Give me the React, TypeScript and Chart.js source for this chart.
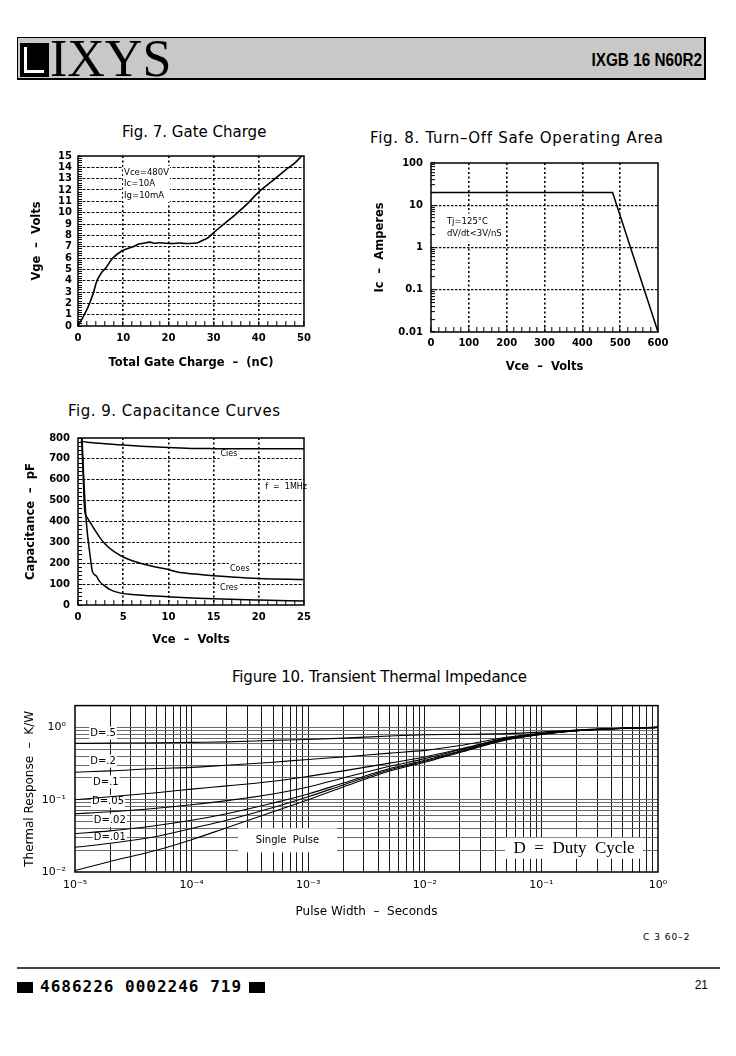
import React, { useEffect, useRef } from 'react';
import { Chart, registerables } from 'chart.js';

Chart.register(...registerables);
Chart.defaults.font.family = 'DejaVu Sans';

// ---------------- Fig. 7  Gate Charge ----------------
const gateChargeNC = [0, 0.7, 1.4, 2.2, 3.3, 4.2, 5.2, 6.1, 7.7, 9.6, 10.7, 12.2, 13.6, 14.5, 15.9, 17, 18, 19.5, 21, 22.5, 24, 25.4, 26.5, 27.3, 28.8, 29.9, 32, 35, 37.5, 40.2, 43, 46, 48, 49.5];
const gateVoltageV = [0, 0.49, 1.0, 1.65, 2.8, 4.0, 4.7, 5.1, 6.0, 6.6, 6.8, 7.0, 7.25, 7.3, 7.4, 7.3, 7.35, 7.3, 7.28, 7.32, 7.28, 7.3, 7.35, 7.5, 7.8, 8.2, 8.9, 9.9, 10.8, 11.9, 12.8, 13.8, 14.4, 15];
const gateXTickLabels = ['0', '10', '20', '30', '40', '50'];
const gateYTickLabels = ['0', '1', '2', '3', '4', '5', '6', '7', '8', '9', '10', '11', '12', '13', '14', '15'];
const gateNoteLines = ['Vce=480V', 'Ic=10A', 'Ig=10mA'];

// ---------------- Fig. 8  Turn-Off SOA ----------------
const soaVceV = [0, 480, 600];
const soaIcA = [20, 20, 0.01];
const soaXTickLabels = ['0', '100', '200', '300', '400', '500', '600'];
const soaYTickValues = [0.01, 0.1, 1, 10, 100];
const soaYTickLabels = ['0.01', '0.1', '1', '10', '100'];
const soaNoteLines = ['Tj=125°C', 'dV/dt<3V/nS'];

// ---------------- Fig. 9  Capacitance ----------------
const ciesVce = [0.3, 1, 2, 3, 5, 7, 10, 13, 15, 20, 25];
const ciesPF = [784, 780, 776, 772, 766, 761, 755, 750, 749, 748, 748];
const coesVce = [0.4, 0.55, 0.74, 1, 1.5, 2, 2.5, 3, 3.5, 4, 5, 6, 7, 8, 9, 10, 11, 13, 15, 17, 20, 25];
const coesPF = [800, 640, 453, 420, 385, 350, 318, 292, 272, 256, 230, 212, 199, 188, 178, 170, 158, 148, 140, 134, 127, 122];
const cresVce = [0.45, 0.6, 0.8, 1, 1.3, 1.6, 2, 2.4, 3, 3.5, 4.6, 6, 8, 10, 12, 15, 20, 25];
const cresPF = [800, 640, 470, 360, 250, 160, 140, 112, 90, 75, 58, 50, 44, 40, 35, 30, 24, 19];
const capXTickLabels = ['0', '5', '10', '15', '20', '25'];
const capYTickLabels = ['0', '100', '200', '300', '400', '500', '600', '700', '800'];

// ---------------- Fig. 10  Transient Thermal Impedance ----------------
const pulseWidthS = [1e-5, 2e-5, 5e-5, 1e-4, 2e-4, 5e-4, 1e-3, 2e-3, 5e-3, 1e-2, 2e-2, 5e-2, 1e-1, 2e-1, 5e-1, 1];
const zthD50 = [0.6, 0.605, 0.61, 0.62, 0.63, 0.66, 0.68, 0.71, 0.76, 0.79, 0.8, 0.82, 0.86, 0.92, 0.97, 1.0];
const zthD20 = [0.24, 0.25, 0.27, 0.28, 0.3, 0.33, 0.36, 0.39, 0.44, 0.48, 0.56, 0.73, 0.83, 0.91, 0.97, 1.0];
const zthD10 = [0.1, 0.11, 0.125, 0.14, 0.155, 0.18, 0.21, 0.25, 0.32, 0.39, 0.5, 0.71, 0.82, 0.91, 0.97, 1.0];
const zthD05 = [0.064, 0.068, 0.076, 0.085, 0.097, 0.12, 0.15, 0.2, 0.29, 0.37, 0.49, 0.7, 0.81, 0.9, 0.97, 1.0];
const zthD02 = [0.034, 0.037, 0.044, 0.052, 0.064, 0.09, 0.12, 0.17, 0.27, 0.35, 0.47, 0.69, 0.81, 0.9, 0.97, 1.0];
const zthD01 = [0.022, 0.025, 0.031, 0.04, 0.052, 0.078, 0.11, 0.16, 0.26, 0.34, 0.46, 0.68, 0.8, 0.9, 0.97, 1.0];
const zthSingle = [0.0105, 0.014, 0.02, 0.028, 0.041, 0.068, 0.1, 0.15, 0.25, 0.33, 0.45, 0.67, 0.8, 0.9, 0.97, 1.0];
const thermXTickValues = [1e-5, 1e-4, 1e-3, 1e-2, 1e-1, 1];
const thermXTickLabels = ['10⁻⁵', '10⁻⁴', '10⁻³', '10⁻²', '10⁻¹', '10⁰'];
const thermYTickValues = [0.01, 0.1, 1];
const thermYTickLabels = ['10⁻²', '10⁻¹', '10⁰'];
const dutyLabels = ['D=.5', 'D=.2', 'D=.1', 'D=.05', 'D=.02', 'D=.01'];

// ---------------- helpers ----------------
const stepValues = (min: number, max: number, step: number) => {
  const out: number[] = [];
  const n = Math.round((max - min) / step);
  for (let i = 0; i <= n; i++) out.push(Math.round((min + i * step) * 1e6) / 1e6);
  return out;
};
const logValues = (minExp: number, maxExp: number, top: number) => {
  const out: number[] = [];
  for (let e = minExp; e <= maxExp; e++)
    for (let m = 1; m <= 9; m++) {
      const v = Number((m * Math.pow(10, e)).toPrecision(6));
      if (v <= top * (1 + 1e-9)) out.push(v);
    }
  return out;
};
const near = (arr: number[], v: number) => arr.findIndex((u) => Math.abs(u - v) <= Math.abs(u) * 1e-6 + 1e-12);
const pts = (xs: number[], ys: number[]) => xs.map((x, i) => ({ x, y: ys[i] }));

type Rect = { x: number; y: number; w: number; h: number };
type Plot = { l: number; t: number; r: number; b: number };
type Font = { family?: string; size: number; weight?: string | number; style?: string };
type AxisSpec = {
  type: 'linear' | 'logarithmic';
  min: number;
  max: number;
  tickValues: number[];
  labelValues: number[];
  labels: string[];
  gridValues: number[];
  gridColor: string;
  gridWidth: number;
  gridDash: number[];
  tickLen: number;
  labelFont: Font;
  labelAt: number; // x: label centre y (page); y: label right edge x (page)
  title: string;
  titleFont: Font;
  titleAt: number; // x: title centre y (page); y: title centre x (page)
};
type Note = {
  x: number;
  y: number;
  lines: string[];
  font: string;
  lh: number;
  align?: 'left' | 'center';
  bg?: boolean;
  boxW?: number;
  boxH?: number;
  pad?: number;
};

const framePlugin = {
  id: 'frame',
  afterDatasetsDraw(chart: any) {
    const { ctx, chartArea: a } = chart;
    ctx.save();
    ctx.strokeStyle = '#000';
    ctx.lineWidth = 1.5;
    ctx.strokeRect(a.left, a.top, a.right - a.left, a.bottom - a.top);
    ctx.restore();
  },
};

const notesPlugin = (notes: Note[]) => ({
  id: 'notes',
  beforeDatasetsDraw(chart: any) {
    const { ctx } = chart;
    const xs = chart.scales.x;
    const ys = chart.scales.y;
    ctx.save();
    for (const n of notes) {
      const px = xs.getPixelForValue(n.x);
      const py = ys.getPixelForValue(n.y);
      ctx.font = n.font;
      const w = Math.max(...n.lines.map((l) => ctx.measureText(l).width));
      const h = n.lines.length * n.lh;
      const pad = n.pad ?? 2;
      const bw = n.boxW ?? w + 2 * pad;
      const bh = n.boxH ?? h + 2 * pad;
      const cx = n.align === 'left' ? px + w / 2 : px;
      if (n.bg) {
        ctx.fillStyle = '#fff';
        ctx.fillRect(cx - bw / 2, py - bh / 2, bw, bh);
      }
      ctx.fillStyle = '#000';
      ctx.textBaseline = 'middle';
      ctx.textAlign = n.align === 'left' ? 'left' : 'center';
      n.lines.forEach((l, i) => ctx.fillText(l, px, py - h / 2 + n.lh * (i + 0.5)));
    }
    ctx.restore();
  },
});

function axisOptions(pos: 'x' | 'y', a: AxisSpec, canvas: Rect, plot: Plot) {
  const tl = a.tickLen > 0 ? -a.tickLen : 0;
  const labelLh = a.labelFont.size * 1.2;
  const titleLh = a.titleFont.size * 1.2;
  const size = pos === 'x' ? canvas.y + canvas.h - plot.b : plot.l - canvas.x;
  const labelPad = pos === 'x' ? a.labelAt - plot.b - labelLh / 2 : plot.l - a.labelAt;
  const titlePad = pos === 'x' ? canvas.y + canvas.h - a.titleAt - titleLh / 2 : a.titleAt - canvas.x - titleLh / 2;
  return {
    type: a.type,
    position: pos === 'x' ? 'bottom' : 'left',
    min: a.min,
    max: a.max,
    afterBuildTicks: (s: any) => {
      s.ticks = a.tickValues.map((value) => ({ value }));
    },
    afterFit: (s: any) => {
      if (pos === 'x') s.height = size;
      else s.width = size;
    },
    ticks: {
      autoSkip: false,
      maxRotation: 0,
      minRotation: 0,
      color: '#000',
      font: a.labelFont,
      padding: labelPad - tl,
      callback: (v: any) => {
        const i = near(a.labelValues, Number(v));
        return i >= 0 ? a.labels[i] : '';
      },
    },
    grid: {
      drawOnChartArea: true,
      drawTicks: a.tickLen > 0,
      tickLength: tl,
      color: (c: any) => (c.tick && near(a.gridValues, c.tick.value) >= 0 ? a.gridColor : 'rgba(0,0,0,0)'),
      lineWidth: a.gridWidth,
      tickColor: '#000',
      tickWidth: 1,
    },
    border: { display: false, dash: a.gridDash },
    title: {
      display: true,
      text: a.title,
      color: '#000',
      font: a.titleFont,
      padding: pos === 'x' ? { top: 0, bottom: titlePad } : { top: titlePad, bottom: 0 },
    },
  };
}

function buildConfig(canvas: Rect, plot: Plot, xa: AxisSpec, ya: AxisSpec, datasets: any[], notes: Note[]) {
  return {
    type: 'line',
    data: { datasets },
    options: {
      responsive: false,
      maintainAspectRatio: false,
      animation: false,
      devicePixelRatio: 1,
      events: [],
      layout: {
        autoPadding: false,
        padding: { left: 0, top: plot.t - canvas.y, right: canvas.x + canvas.w - plot.r, bottom: 0 },
      },
      plugins: { legend: { display: false }, tooltip: { enabled: false }, title: { display: false } },
      scales: { x: axisOptions('x', xa, canvas, plot), y: axisOptions('y', ya, canvas, plot) },
    },
    plugins: [framePlugin, notesPlugin(notes)],
  };
}

const line = (data: any[], width = 1.5, smooth = true) => ({
  data,
  borderColor: '#000',
  backgroundColor: '#000',
  borderWidth: width,
  pointRadius: 0,
  fill: false,
  tension: 0,
  cubicInterpolationMode: smooth ? 'monotone' : 'default',
});

const BOLD_TICK: Font = { family: 'DejaVu Sans', size: 10, weight: 'bold' };
const BOLD_TITLE: Font = { family: 'DejaVu Sans', size: 11.5, weight: 'bold' };

// ---------------- chart configurations ----------------
const fig7Canvas: Rect = { x: 15, y: 140, w: 320, h: 232 };
const fig7Plot: Plot = { l: 78, t: 153, r: 304, b: 326 };
const fig7 = () =>
  buildConfig(
    fig7Canvas,
    fig7Plot,
    {
      type: 'linear', min: 0, max: 50,
      tickValues: stepValues(0, 50, 2),
      labelValues: gateXTickLabels.map(Number), labels: gateXTickLabels,
      gridValues: [10, 20, 30, 40], gridColor: '#000', gridWidth: 1.6, gridDash: [2, 2.5],
      tickLen: 5, labelFont: BOLD_TICK, labelAt: 338,
      title: 'Total Gate Charge  –  (nC)', titleFont: BOLD_TITLE, titleAt: 363,
    },
    {
      type: 'linear', min: 0, max: 15,
      tickValues: stepValues(0, 15, 0.2),
      labelValues: gateYTickLabels.map(Number), labels: gateYTickLabels,
      gridValues: stepValues(1, 14, 1), gridColor: '#111', gridWidth: 1, gridDash: [3, 1.5],
      tickLen: 4, labelFont: BOLD_TICK, labelAt: 72,
      title: 'Vge  –  Volts', titleFont: BOLD_TITLE, titleAt: 37,
    },
    [line(pts(gateChargeNC, gateVoltageV), 1.6)],
    [{ x: 10.2, y: 12.53, lines: gateNoteLines, font: '8.5px "DejaVu Sans"', lh: 11.5, align: 'left', bg: true, pad: 1 }]
  );

const fig8Canvas: Rect = { x: 360, y: 145, w: 330, h: 233 };
const fig8Plot: Plot = { l: 431, t: 159, r: 658, b: 332 };
const fig8 = () =>
  buildConfig(
    fig8Canvas,
    fig8Plot,
    {
      type: 'linear', min: 0, max: 600,
      tickValues: stepValues(0, 600, 20),
      labelValues: soaXTickLabels.map(Number), labels: soaXTickLabels,
      gridValues: [100, 200, 300, 400, 500], gridColor: '#000', gridWidth: 1.6, gridDash: [2, 2.5],
      tickLen: 5, labelFont: BOLD_TICK, labelAt: 343,
      title: 'Vce  –  Volts', titleFont: BOLD_TITLE, titleAt: 367,
    },
    {
      type: 'logarithmic', min: 0.01, max: 100,
      tickValues: logValues(-2, 2, 100),
      labelValues: soaYTickValues, labels: soaYTickLabels,
      gridValues: [0.1, 1, 10], gridColor: '#111', gridWidth: 1.2, gridDash: [2.5, 1.5],
      tickLen: 4, labelFont: BOLD_TICK, labelAt: 423,
      title: 'Ic  –  Amperes', titleFont: BOLD_TITLE, titleAt: 380,
    },
    [line(pts(soaVceV, soaIcA), 1.5, false)],
    [{ x: 42, y: 2.98, lines: soaNoteLines, font: '8.5px "DejaVu Sans"', lh: 12, align: 'left', bg: true, pad: 2 }]
  );

const fig9Canvas: Rect = { x: 15, y: 420, w: 320, h: 232 };
const fig9Plot: Plot = { l: 78, t: 434, r: 304, b: 605 };
const fig9 = () =>
  buildConfig(
    fig9Canvas,
    fig9Plot,
    {
      type: 'linear', min: 0, max: 25,
      tickValues: stepValues(0, 25, 1),
      labelValues: capXTickLabels.map(Number), labels: capXTickLabels,
      gridValues: [5, 10, 15, 20], gridColor: '#000', gridWidth: 1.6, gridDash: [2, 2.5],
      tickLen: 5, labelFont: BOLD_TICK, labelAt: 617,
      title: 'Vce  –  Volts', titleFont: BOLD_TITLE, titleAt: 640,
    },
    {
      type: 'linear', min: 0, max: 800,
      tickValues: stepValues(0, 800, 20),
      labelValues: capYTickLabels.map(Number), labels: capYTickLabels,
      gridValues: stepValues(100, 700, 100), gridColor: '#111', gridWidth: 1, gridDash: [3, 1.5],
      tickLen: 4, labelFont: BOLD_TICK, labelAt: 70,
      title: 'Capacitance  –  pF', titleFont: BOLD_TITLE, titleAt: 31,
    },
    [
      line(pts(ciesVce, ciesPF), 1.5),
      line(pts(coesVce, coesPF), 1.5),
      line(pts(cresVce, cresPF), 1.5),
    ],
    [
      { x: 16.7, y: 726, lines: ['Cies'], font: '8px "DejaVu Sans"', lh: 10, bg: true, pad: 1 },
      { x: 20.7, y: 567, lines: ['f  =  1MHz'], font: '8px "DejaVu Sans"', lh: 10, align: 'left', bg: true, pad: 1 },
      { x: 17.9, y: 173, lines: ['Coes'], font: '8px "DejaVu Sans"', lh: 10, bg: true, pad: 1 },
      { x: 16.7, y: 80, lines: ['Cres'], font: '8px "DejaVu Sans"', lh: 10, bg: true, pad: 1 },
    ]
  );

const fig10Canvas: Rect = { x: 10, y: 690, w: 720, h: 235 };
const fig10Plot: Plot = { l: 75, t: 704, r: 658, b: 872 };
const thermX = logValues(-5, 0, 1);
const thermY = logValues(-2, 0, 2);
const fig10 = () =>
  buildConfig(
    fig10Canvas,
    fig10Plot,
    {
      type: 'logarithmic', min: 1e-5, max: 1,
      tickValues: thermX,
      labelValues: thermXTickValues, labels: thermXTickLabels,
      gridValues: thermX.slice(1, -1), gridColor: '#1a1a1a', gridWidth: 1, gridDash: [],
      tickLen: 0, labelFont: { family: 'DejaVu Sans', size: 11 }, labelAt: 885,
      title: 'Pulse Width  –  Seconds', titleFont: { family: 'DejaVu Sans', size: 12 }, titleAt: 912,
    },
    {
      type: 'logarithmic', min: 0.01, max: 2,
      tickValues: thermY,
      labelValues: thermYTickValues, labels: thermYTickLabels,
      gridValues: thermY.slice(1, -1), gridColor: '#6a6a6a', gridWidth: 1, gridDash: [],
      tickLen: 0, labelFont: { family: 'DejaVu Sans', size: 11 }, labelAt: 66,
      title: 'Thermal Response  –  K/W', titleFont: { family: 'DejaVu Sans', size: 12 }, titleAt: 30,
    },
    [
      line(pts(pulseWidthS, zthD50), 1.1),
      line(pts(pulseWidthS, zthD20), 1.1),
      line(pts(pulseWidthS, zthD10), 1.1),
      line(pts(pulseWidthS, zthD05), 1.1),
      line(pts(pulseWidthS, zthD02), 1.1),
      line(pts(pulseWidthS, zthD01), 1.1),
      line(pts(pulseWidthS, zthSingle), 1.1),
    ],
    [
      { x: 1.35e-5, y: 0.835, lines: [dutyLabels[0]], font: '10px "DejaVu Sans"', lh: 11, align: 'left', bg: true, pad: 1 },
      { x: 1.35e-5, y: 0.342, lines: [dutyLabels[1]], font: '10px "DejaVu Sans"', lh: 11, align: 'left', bg: true, pad: 1 },
      { x: 1.43e-5, y: 0.176, lines: [dutyLabels[2]], font: '10px "DejaVu Sans"', lh: 11, align: 'left', bg: true, pad: 1 },
      { x: 1.4e-5, y: 0.0946, lines: [dutyLabels[3]], font: '10px "DejaVu Sans"', lh: 11, align: 'left', bg: true, pad: 1 },
      { x: 1.45e-5, y: 0.0515, lines: [dutyLabels[4]], font: '10px "DejaVu Sans"', lh: 11, align: 'left', bg: true, pad: 1 },
      { x: 1.45e-5, y: 0.0301, lines: [dutyLabels[5]], font: '10px "DejaVu Sans"', lh: 11, align: 'left', bg: true, pad: 1 },
      { x: 6.64e-4, y: 0.0274, lines: ['Single  Pulse'], font: '10px "DejaVu Sans"', lh: 12, bg: true, boxW: 99, boxH: 24 },
      { x: 0.1905, y: 0.0213, lines: ['D  =  Duty  Cycle'], font: '17px "Liberation Serif"', lh: 18, bg: true, boxW: 138, boxH: 21 },
    ]
  );

// ---------------- components ----------------
function ChartBox({ rect, make }: { rect: Rect; make: () => any }) {
  const ref = useRef<HTMLCanvasElement>(null);
  useEffect(() => {
    const chart = new Chart(ref.current as HTMLCanvasElement, make());
    return () => chart.destroy();
  }, []);
  return (
    <canvas
      ref={ref}
      width={rect.w}
      height={rect.h}
      style={{ position: 'absolute', left: rect.x, top: rect.y, width: rect.w, height: rect.h }}
    />
  );
}

function FigTitle({ text, left, cy, spacing }: { text: string; left: number; cy: number; spacing: number }) {
  return (
    <div
      style={{
        position: 'absolute',
        left,
        top: cy - 9,
        height: 18,
        lineHeight: '18px',
        fontFamily: '"DejaVu Sans"',
        fontSize: 15,
        letterSpacing: spacing,
        whiteSpace: 'nowrap',
        color: '#000',
      }}
    >
      {text}
    </div>
  );
}

export default function App() {
  return (
    <div
      style={{
        position: 'absolute',
        left: 0,
        top: 0,
        width: 736,
        height: 1056,
        background: '#fff',
        overflow: 'hidden',
        color: '#000',
      }}
    >
      {/* header */}
      <div
        style={{
          position: 'absolute',
          left: 17,
          top: 37,
          width: 686,
          height: 40,
          background: '#c8c8c8',
          border: '1px solid #000',
          borderRightWidth: 2,
          borderBottomWidth: 2,
        }}
      />
      <div style={{ position: 'absolute', left: 20, top: 43, width: 29, height: 34, background: '#000' }} />
      <div style={{ position: 'absolute', left: 24, top: 47, width: 3, height: 26, background: '#fff' }} />
      <div style={{ position: 'absolute', left: 24, top: 70, width: 20, height: 3, background: '#fff' }} />
      <div
        style={{
          position: 'absolute',
          left: 50,
          top: 33,
          height: 52,
          lineHeight: '52px',
          fontFamily: '"Liberation Serif"',
          fontSize: 52,
          whiteSpace: 'nowrap',
        }}
      >
        IXYS
      </div>
      <div
        style={{
          position: 'absolute',
          right: 736 - 702,
          top: 51,
          height: 18,
          lineHeight: '18px',
          fontFamily: '"Liberation Sans"',
          fontWeight: 'bold',
          fontSize: 18,
          whiteSpace: 'nowrap',
          transform: 'scaleX(0.85)',
          transformOrigin: 'right center',
        }}
      >
        IXGB 16 N60R2
      </div>

      {/* figure titles */}
      <FigTitle text="Fig. 7. Gate Charge" left={122} cy={132} spacing={0} />
      <FigTitle text="Fig. 8. Turn–Off Safe Operating Area" left={370} cy={138} spacing={0.7} />
      <FigTitle text="Fig. 9. Capacitance Curves" left={68} cy={411} spacing={0.5} />
      <FigTitle text="Figure 10. Transient Thermal Impedance" left={232} cy={677} spacing={-0.2} />

      <ChartBox rect={fig7Canvas} make={fig7} />
      <ChartBox rect={fig8Canvas} make={fig8} />
      <ChartBox rect={fig9Canvas} make={fig9} />
      <ChartBox rect={fig10Canvas} make={fig10} />

      <div
        style={{
          position: 'absolute',
          left: 643,
          top: 931,
          fontFamily: '"DejaVu Sans"',
          fontSize: 9,
          lineHeight: '12px',
          letterSpacing: 1,
          whiteSpace: 'nowrap',
        }}
      >
        C 3 60–2
      </div>

      {/* footer */}
      <div style={{ position: 'absolute', left: 17, top: 967, width: 703, height: 2, background: '#444' }} />
      <div style={{ position: 'absolute', left: 17, top: 982, width: 16, height: 11, background: '#000' }} />
      <div
        style={{
          position: 'absolute',
          left: 40,
          top: 978,
          fontFamily: '"DejaVu Sans Mono"',
          fontWeight: 'bold',
          fontSize: 16,
          lineHeight: '18px',
          letterSpacing: 1,
          whiteSpace: 'nowrap',
        }}
      >
        4686226 0002246 719
      </div>
      <div style={{ position: 'absolute', left: 249, top: 982, width: 16, height: 11, background: '#000' }} />
      <div
        style={{
          position: 'absolute',
          right: 736 - 708,
          top: 978,
          fontFamily: '"Liberation Sans"',
          fontSize: 12,
          lineHeight: '14px',
          whiteSpace: 'nowrap',
        }}
      >
        21
      </div>
    </div>
  );
}
